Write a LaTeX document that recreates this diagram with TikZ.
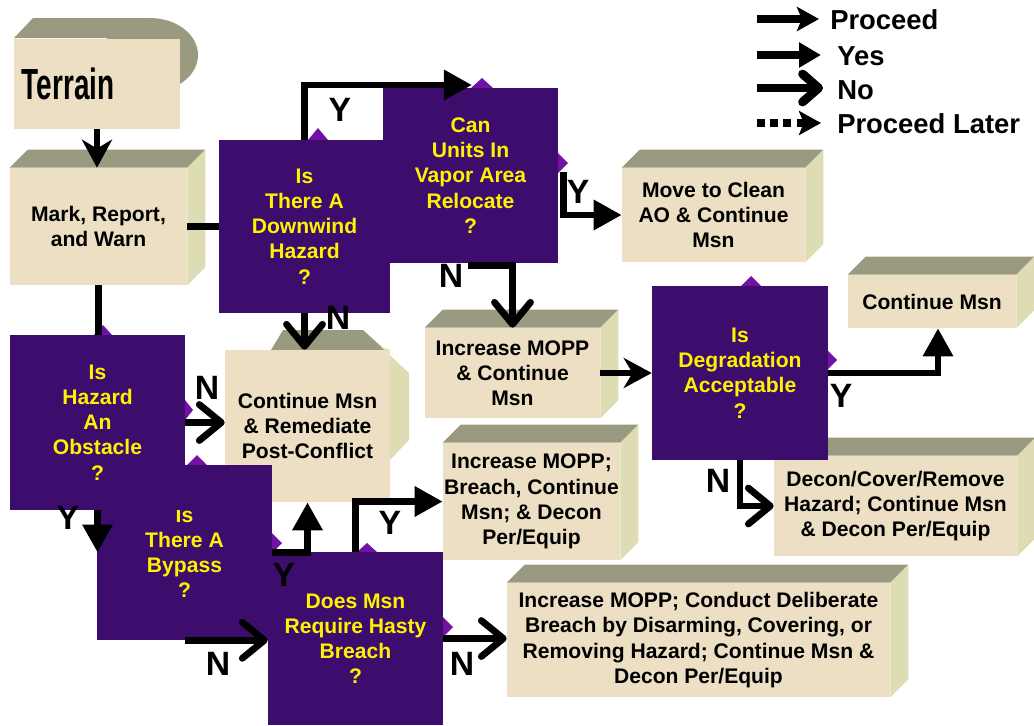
\documentclass[tikz,border=0pt]{standalone}
\usepackage{fontspec}
\setmainfont{Liberation Sans}
\usetikzlibrary{arrows.meta, positioning}
\definecolor{slabfront}{HTML}{ECDFC3}
\definecolor{slabtop}{HTML}{9A9A80}
\definecolor{slabside}{HTML}{DEDCB2}
\definecolor{qpurple}{HTML}{3C0D6C}
\definecolor{qtip}{HTML}{7212A4}
\newcommand{\boxfont}{\fontsize{15}{17.9}\selectfont\bfseries}
\newcommand{\ynfont}{\fontsize{24}{24}\selectfont\bfseries}
\newcommand{\legendfont}{\fontsize{19.5}{20}\selectfont\bfseries}
% top and right faces of a cream block
\newcommand{\slabfaces}[1]{%
  \fill[slabtop] (#1.north west) -- ++(18,-18) -- ([shift={(18,-18)}]#1.north east) -- (#1.north east) -- cycle;
  \fill[slabside] (#1.north east) -- ([shift={(18,-18)}]#1.north east) -- ([shift={(18,-18)}]#1.south east) -- (#1.south east) -- cycle;}
\begin{document}
\begin{tikzpicture}[x=0.025cm, y=-0.025cm,
  boxsize/.style 2 args={minimum width=#1*0.025cm, minimum height=#2*0.025cm},
  slab/.style={fill=slabfront, text=black, font=\boxfont, align=center, inner sep=0pt},
  query/.style={fill=qpurple, text=yellow, font=\boxfont, align=center, inner sep=0pt, boxsize={175}{175}},
  yn/.style={font=\ynfont, inner sep=0pt},
  legend/.style={font=\legendfont, inner sep=0pt, anchor=west},
  conn/.style={line width=0.17cm},
  goarrow/.style={conn, -{Stealth[length=0.7cm,width=0.75cm,inset=0.22cm]}},
  yesarrow/.style={conn, -{Triangle[length=0.7cm,width=0.72cm]}},
  noarrow/.style={conn, -{Straight Barb[length=0.55cm,width=0.9cm,round]}},
  qtipfill/.style={fill=qtip}]
\useasboundingbox[fill=white] (0,0) rectangle (1034,725);

% terrain
\fill[slabtop] (150,55) ellipse [x radius=1.2cm, y radius=0.925cm];
\fill[slabtop] (14,38) -- (33,18) -- (150,18) -- (150,38) -- cycle;
\node[slab, boxsize={166}{90}, inner xsep=0.2cm, text width=3.75cm, align=left] (terrain) at (97,84)
  {\fontsize{31}{31}\selectfont\bfseries\scalebox{0.64}[1]{Terrain}};

\node[slab, boxsize={177}{117}] (mark) at (98.5,226.5) {Mark, Report,\\and Warn};
\slabfaces{mark}

% decisions, upper part
\fill[qtipfill] (482,78) -- ++(11,10) -- ++(-22,0) -- cycle;
\fill[qtipfill] (568,163) -- ++(-10,-10) -- ++(0,20) -- cycle;
\node[query] (canunits) at (470.5,175.5) {Can\\Units In\\Vapor Area\\Relocate\\?};
\fill[qtipfill] (318,128) -- ++(10,12) -- ++(-20,0) -- cycle;
\node[query, boxsize={171}{173}] (downwind) at (304.5,226.5) {Is\\There A\\Downwind\\Hazard\\?};

\node[slab, boxsize={183}{94}] (moveclean) at (713.5,215) {Move to Clean\\AO \& Continue\\Msn};
\slabfaces{moveclean}
\node[slab, boxsize={168}{53}] (contmsn) at (932,301.5) {Continue Msn};
\slabfaces{contmsn}

% octagonal block
\fill[slabtop] (271,350) -- (283,330) -- (363,330) -- (385,350) -- cycle;
\fill[slabside] (381,347) -- (409,373) -- (409,440) -- (390,460) -- (390,350) -- cycle;
\node[slab, boxsize={165}{152}] (remediate) at (307.5,426) {Continue Msn\\\& Remediate\\Post-Conflict};

\node[slab, boxsize={175}{90}] (incmopp) at (512.5,373) {Increase MOPP\\\& Continue\\Msn};
\slabfaces{incmopp}
\node[slab, boxsize={243}{100}] (decon) at (895.5,506) {Decon/Cover/Remove\\Hazard; Continue Msn\\\& Decon Per/Equip};
\slabfaces{decon}

\fill[qtipfill] (751,276) -- ++(10,10) -- ++(-20,0) -- cycle;
\fill[qtipfill] (837,360) -- ++(-10,-10) -- ++(0,20) -- cycle;
\node[query, boxsize={176}{174}] (degrad) at (740,373) {Is\\Degradation\\Acceptable\\?};

\node[slab, boxsize={177}{117}] (breach) at (531.5,501.5) {Increase MOPP;\\Breach, Continue\\Msn; \& Decon\\Per/Equip};
\slabfaces{breach}
\node[slab, boxsize={383}{114}] (deliberate) at (698.5,640) {Increase MOPP; Conduct Deliberate\\Breach by Disarming, Covering, or\\Removing Hazard; Continue Msn \&\\Decon Per/Equip};
\slabfaces{deliberate}

% decisions, lower part
\fill[qtipfill] (367,543) -- ++(10,9) -- ++(-20,0) -- cycle;
\fill[qtipfill] (453,627) -- ++(-10,-10) -- ++(0,20) -- cycle;
\node[query, boxsize={175}{173}] (hasty) at (355.5,638.5) {Does Msn\\Require Hasty\\Breach\\?};
\fill[qtipfill] (197,455) -- ++(10,10) -- ++(-20,0) -- cycle;
\fill[qtipfill] (282,543) -- ++(-10,-10) -- ++(0,20) -- cycle;
\node[query] (bypass) at (184.5,552.5) {Is\\There A\\Bypass\\?};
\fill[qtipfill] (103,325) -- ++(9,10) -- ++(-18,0) -- cycle;
\fill[qtipfill] (193,410) -- ++(-8,-10) -- ++(0,20) -- cycle;
\node[query] (obstacle) at (97.5,422.5) {Is\\Hazard\\An\\Obstacle\\?};

% connectors
\draw[goarrow] (terrain.south) -- (terrain.south |- mark.north);
\draw[conn] (mark.east) -- (downwind.west);
\draw[conn] (mark.south) -- (mark.south |- obstacle.north);
\coordinate (cuentry) at (472,85);
\draw[yesarrow] (downwind.north) |- (cuentry);
\node[yn] (dwy) at (340,110) {Y};
\draw[noarrow] (downwind.south) -- (downwind.south |- remediate.north);
\node[yn] (dwn) at (338,318) {N};
\draw[yesarrow] (canunits.east) ++(5,-4) |- (moveclean.west);
\node[yn] (cuy) at (578,192) {Y};
\draw[noarrow] (canunits.south) ++(-3,2) -| (incmopp.north);
\node[yn] (cun) at (451,276) {N};
\draw[goarrow] (incmopp.east) -- (degrad.west);
\draw[yesarrow] (degrad.east) -| ([xshift=0.15cm]contmsn.south);
\node[yn] (dgy) at (841,396) {Y};
\draw[noarrow] (degrad.south) |- (decon.west);
\node[yn] (dgn) at (718,481) {N};
\draw[noarrow] (obstacle.east) -- (obstacle.east -| remediate.west);
\node[yn] (obn) at (207,388) {N};
\draw[yesarrow] (obstacle.south) -- (obstacle.south |- bypass.west);
\node[yn] (oby) at (68,518) {Y};
\draw[yesarrow] (bypass.east) -| (remediate.south);
\node[yn] (byy) at (284,575) {Y};
\draw[noarrow] (bypass.south) -- (bypass.south -| hasty.west);
\node[yn] (byn) at (218,664) {N};
\draw[yesarrow] (hasty.north) |- (breach.west);
\node[yn] (hay) at (390,523) {Y};
\draw[noarrow] (hasty.east) -- (hasty.east -| deliberate.west);
\node[yn] (han) at (462,664) {N};

% legend
\node[legend] (lgproceed) at (830,20) {Proceed};
\node[legend] (lgyes) at (837,56) {Yes};
\node[legend] (lgno) at (837,90) {No};
\node[legend] (lglater) at (837,124) {Proceed Later};
\coordinate (lgproceeda) at (757,19);
\coordinate (lgproceedb) at (819,19);
\coordinate (lgyesa) at (757,55);
\coordinate (lgyesb) at (821,55);
\coordinate (lgnoa) at (757,88);
\coordinate (lgnob) at (823,88);
\coordinate (lglatera) at (757,123);
\coordinate (lglaterb) at (821,123);
\draw[line width=0.22cm, -{Stealth[length=0.55cm,width=0.6cm,inset=0.12cm]}] (lgproceeda) -- (lgproceedb);
\draw[line width=0.22cm, -{Triangle[length=0.55cm,width=0.6cm]}] (lgyesa) -- (lgyesb);
\draw[line width=0.22cm, -{Straight Barb[length=0.4cm,width=0.7cm,round]}] (lgnoa) -- (lgnob);
\draw[line width=0.22cm, dash pattern=on 0.2cm off 0.13cm, -{Stealth[length=0.55cm,width=0.6cm,inset=0.12cm]}] (lglatera) -- (lglaterb);
\end{tikzpicture}
\end{document}
